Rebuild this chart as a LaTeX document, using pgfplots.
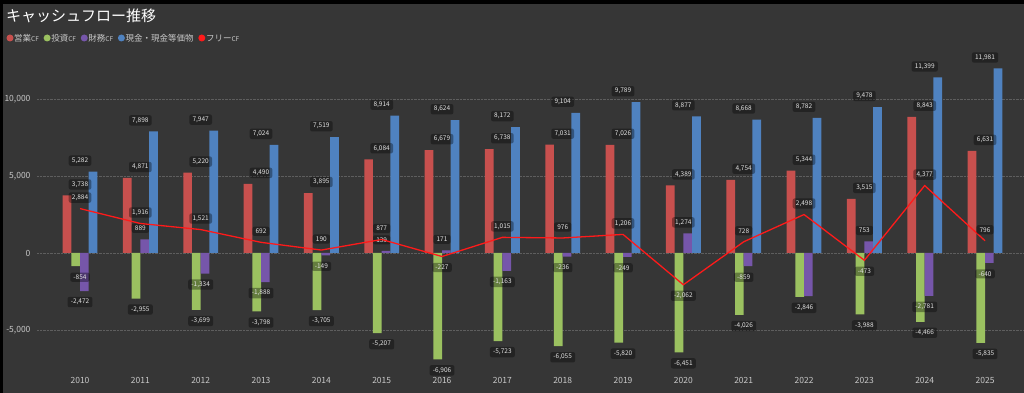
\documentclass[border=0pt]{standalone}
\usepackage{fontspec}
\setmainfont{Noto Sans CJK JP}
\usepackage{pgfplots}
\pgfplotsset{compat=1.18}
\usepackage{pgfplotstable}
\definecolor{bg}{HTML}{363636}
\definecolor{cfop}{HTML}{C8504E}
\definecolor{cfinv}{HTML}{9BC160}
\definecolor{cffin}{HTML}{7656AA}
\definecolor{cash}{HTML}{4F82C0}
\definecolor{fcf}{HTML}{FF1A1A}
\definecolor{tickc}{HTML}{C8C8C8}
\definecolor{gridc}{HTML}{5E5E5E}
\definecolor{lbltx}{HTML}{E2E2E2}

\pgfplotstableread{
year op inv fin cash fcf
2010 3738 -854 -2472 5282 2884
2011 4871 -2955 889 7898 1916
2012 5220 -3699 -1334 7947 1521
2013 4490 -3798 -1888 7024 692
2014 3895 -3705 -149 7519 190
2015 6084 -5207 139 8914 877
2016 6679 -6906 171 8624 -227
2017 6738 -5723 -1163 8172 1015
2018 7031 -6055 -236 9104 976
2019 7026 -5820 -249 9789 1206
2020 4389 -6451 1274 8877 -2062
2021 4754 -4026 -859 8668 728
2022 5344 -2846 -2800 8782 2498
2023 3515 -3988 753 9478 -473
2024 8843 -4466 -2781 11399 4377
2025 6631 -5835 -640 11981 796
}\data

\pgfplotstableread{
year fin
2010 -2472
2011 889
2012 -1334
2013 -1888
2014 -149
2015 139
2016 171
2017 -1163
2018 -236
2019 -249
2020 1274
2021 -859
2023 753
2024 -2781
2025 -640
}\finlab

\pgfplotsset{
  lbl/.style={
    visualization depends on={rawy \as \rawy},
    nodes near coords={\pgfmathprintnumber[fixed,precision=0,1000 sep={,},assume math mode=true]{\pgfplotspointmeta}},
    nodes near coords align={center},
    every node near coord/.append style={
      font=\fontsize{6.5}{7}\selectfont, text=lbltx,
      fill=black, fill opacity=0.35, text opacity=1,
      rounded corners=2pt, inner xsep=3.2pt, inner ysep=2.2pt,
      anchor=center, yshift={(\rawy<0 ? -11 : 11)}},
  },
  barbase/.style={ybar, bar width=8.7pt, draw=none},
  baseaxis/.style={
    at={(37pt,24.5pt)}, anchor=south west,
    scale only axis, width=987pt, height=315.7pt,
    xmin=2009.287, xmax=2025.646, ymin=-7500, ymax=13000,
    axis line style={draw=none}, major tick length=0pt,
    clip=false,
  },
}

\begin{document}
\begin{tikzpicture}
\fill[black] (0,0) rectangle (1024pt,393pt);
\fill[bg] (2.7pt,0) rectangle (1024pt,389pt);

\begin{axis}[baseaxis,
  xtick={2010,2011,...,2025},
  ytick={-5000,0,5000,10000},
  scaled y ticks=false,
  xticklabel style={font=\fontsize{8.5}{10}\selectfont, text=tickc, /pgf/number format/1000 sep={}, yshift=-5pt},
  yticklabel style={font=\fontsize{8.5}{10}\selectfont, text=tickc, /pgf/number format/1000 sep={,}, /pgf/number format/fixed, xshift=-3pt},
  /pgf/number format/assume math mode=true,
  ymajorgrids, grid style={densely dotted, gridc, line width=0.7pt},
]
\addplot[barbase, bar shift=-13.05pt, fill=cfop, lbl=op] table[x=year,y=op]{\data};
\addplot[barbase, bar shift=-4.35pt, fill=cfinv, lbl=inv] table[x=year,y=inv]{\data};
\addplot[barbase, bar shift=4.35pt, fill=cffin] table[x=year,y=fin]{\data};
\addplot[barbase, bar shift=4.35pt, fill=none, lbl=fin] table[x=year,y=fin]{\finlab};
\addplot[barbase, bar shift=13.05pt, fill=cash, lbl=cash] table[x=year,y=cash]{\data};
\end{axis}

\begin{axis}[baseaxis, axis lines=none]
\addplot[fcf, line width=1.3pt, mark=none, lbl=fcf] table[x=year,y=fcf]{\data};
\end{axis}

% title
\node[anchor=west, text=white, font=\fontsize{15}{18}\selectfont, inner sep=0pt] at (6pt,377pt) {キャッシュフロー推移};
% legend
\begin{scope}[font=\fontsize{8.5}{10}\selectfont, text=tickc]
\newcommand\cf{{\fontsize{6.5}{7}\selectfont CF}}
\fill[cfop] (10pt,355pt) circle (3.5pt);
\node[anchor=west, inner sep=0pt] (l1) at (14pt,355pt) {営業\cf};
\fill[cfinv] ([xshift=8pt]l1.east) circle (3.5pt);
\node[anchor=west, inner sep=0pt] (l2) at ([xshift=12pt]l1.east) {投資\cf};
\fill[cffin] ([xshift=8pt]l2.east) circle (3.5pt);
\node[anchor=west, inner sep=0pt] (l3) at ([xshift=12pt]l2.east) {財務\cf};
\fill[cash] ([xshift=8pt]l3.east) circle (3.5pt);
\node[anchor=west, inner sep=0pt] (l4) at ([xshift=12pt]l3.east) {現金・現金等価物};
\fill[fcf] ([xshift=8pt]l4.east) circle (3.5pt);
\node[anchor=west, inner sep=0pt] (l5) at ([xshift=12pt]l4.east) {フリー\cf};
\end{scope}

\pgfresetboundingbox
\useasboundingbox (0,0) rectangle (1024pt,393pt);
\end{tikzpicture}
\end{document}
